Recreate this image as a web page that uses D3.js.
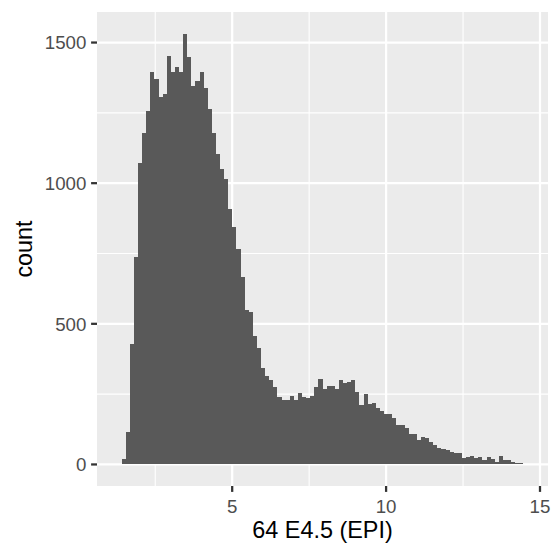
<!DOCTYPE html>
<html>
<head>
<meta charset="utf-8">
<script src="https://cdn.jsdelivr.net/npm/d3@7"></script>
<style>
  html, body { margin: 0; padding: 0; background: #ffffff; }
  svg { display: block; }
  text { font-family: "Liberation Sans", Arial, Helvetica, sans-serif; }
</style>
</head>
<body>
<script>
// ---- data ----
const binStart = 1.274;      // left edge of first bin (x units)
const binWidth = 0.1332;     // bin width (x units)
const counts = [
  0,
  20, 116, 429, 739, 1073, 1180, 1258, 1397, 1369, 1305,
  1316, 1451, 1397, 1412, 1394, 1532, 1447, 1344, 1362, 1397,
  1337, 1262, 1180, 1102, 1052, 1016, 909, 845, 767, 667,
  550, 543, 457, 415, 344, 315, 301, 276, 240, 230,
  230, 244, 230, 254, 240, 237, 244, 276, 304, 269,
  279, 279, 269, 301, 291, 294, 301, 258, 212, 251,
  215, 219, 201, 190, 180, 180, 166, 141, 141, 130,
  107, 109, 87, 98, 94, 80, 69, 59, 55, 52,
  44, 41, 41, 23, 27, 30, 24, 27, 17, 27,
  21, 9, 30, 16, 16, 9, 4, 4,
  0
];
const xMajor = [5, 10, 15];
const xMinor = [2.5, 7.5, 12.5];
const yMajor = [0, 500, 1000, 1500];
const yMinor = [250, 750, 1250];
const xLabel = "64 E4.5 (EPI)";
const yLabel = "count";

// ---- layout ----
const W = 560, H = 560;
const panel = { left: 97, right: 548, top: 12, bottom: 486 };

const bins = counts.map((c, i) => ({
  x0: binStart + i * binWidth,
  x1: binStart + (i + 1) * binWidth,
  count: c
}));

const xmin = bins[0].x0, xmax = bins[bins.length - 1].x1;
const xr = xmax - xmin;
const ymax = d3.max(counts);

const x = d3.scaleLinear()
  .domain([xmin - 0.05 * xr, xmax + 0.05 * xr])
  .range([panel.left, panel.right]);
const y = d3.scaleLinear()
  .domain([-0.05 * ymax, ymax * 1.05])
  .range([panel.bottom, panel.top]);

const svg = d3.select("body").append("svg")
  .attr("width", W).attr("height", H);

// panel background
svg.append("rect")
  .attr("x", panel.left).attr("y", panel.top)
  .attr("width", panel.right - panel.left)
  .attr("height", panel.bottom - panel.top)
  .attr("fill", "#EBEBEB");

const grid = svg.append("g");
// minor grid
grid.selectAll("line.xminor").data(xMinor).enter().append("line")
  .attr("x1", d => x(d)).attr("x2", d => x(d))
  .attr("y1", panel.top).attr("y2", panel.bottom)
  .attr("stroke", "#ffffff").attr("stroke-width", 1.13);
grid.selectAll("line.yminor").data(yMinor).enter().append("line")
  .attr("y1", d => y(d)).attr("y2", d => y(d))
  .attr("x1", panel.left).attr("x2", panel.right)
  .attr("stroke", "#ffffff").attr("stroke-width", 1.13);
// major grid
grid.selectAll("line.xmajor").data(xMajor).enter().append("line")
  .attr("x1", d => x(d)).attr("x2", d => x(d))
  .attr("y1", panel.top).attr("y2", panel.bottom)
  .attr("stroke", "#ffffff").attr("stroke-width", 2.27);
grid.selectAll("line.ymajor").data(yMajor).enter().append("line")
  .attr("y1", d => y(d)).attr("y2", d => y(d))
  .attr("x1", panel.left).attr("x2", panel.right)
  .attr("stroke", "#ffffff").attr("stroke-width", 2.27);

// bars
svg.append("g").selectAll("rect").data(bins.filter(b => b.count > 0)).enter().append("rect")
  .attr("x", d => x(d.x0))
  .attr("width", d => x(d.x1) - x(d.x0))
  .attr("y", d => y(d.count))
  .attr("height", d => y(0) - y(d.count))
  .attr("fill", "#595959")
  .attr("shape-rendering", "crispEdges");

// ticks
const tickLen = 5.9;
const ax = svg.append("g");
ax.selectAll("line.xt").data(xMajor).enter().append("line")
  .attr("x1", d => x(d)).attr("x2", d => x(d))
  .attr("y1", panel.bottom).attr("y2", panel.bottom + tickLen)
  .attr("stroke", "#333333").attr("stroke-width", 2.27);
ax.selectAll("line.yt").data(yMajor).enter().append("line")
  .attr("y1", d => y(d)).attr("y2", d => y(d))
  .attr("x1", panel.left - tickLen).attr("x2", panel.left)
  .attr("stroke", "#333333").attr("stroke-width", 2.27);

// tick labels
ax.selectAll("text.xl").data(xMajor).enter().append("text")
  .attr("x", d => x(d)).attr("y", 512.5)
  .attr("text-anchor", "middle")
  .attr("font-size", "18.7px").attr("fill", "#4D4D4D")
  .text(d => d);
ax.selectAll("text.yl").data(yMajor).enter().append("text")
  .attr("x", panel.left - tickLen - 4.7).attr("y", d => y(d))
  .attr("dy", "0.36em")
  .attr("text-anchor", "end")
  .attr("font-size", "18.7px").attr("fill", "#4D4D4D")
  .text(d => d);

// axis titles
svg.append("text")
  .attr("x", (panel.left + panel.right) / 2).attr("y", 537.5)
  .attr("text-anchor", "middle")
  .attr("font-size", "23.4px").attr("fill", "#000000")
  .text(xLabel);
svg.append("text")
  .attr("transform", `translate(31.5, ${(panel.top + panel.bottom) / 2}) rotate(-90)`)
  .attr("text-anchor", "middle")
  .attr("font-size", "23.4px").attr("fill", "#000000")
  .text(yLabel);
</script>
</body>
</html>
